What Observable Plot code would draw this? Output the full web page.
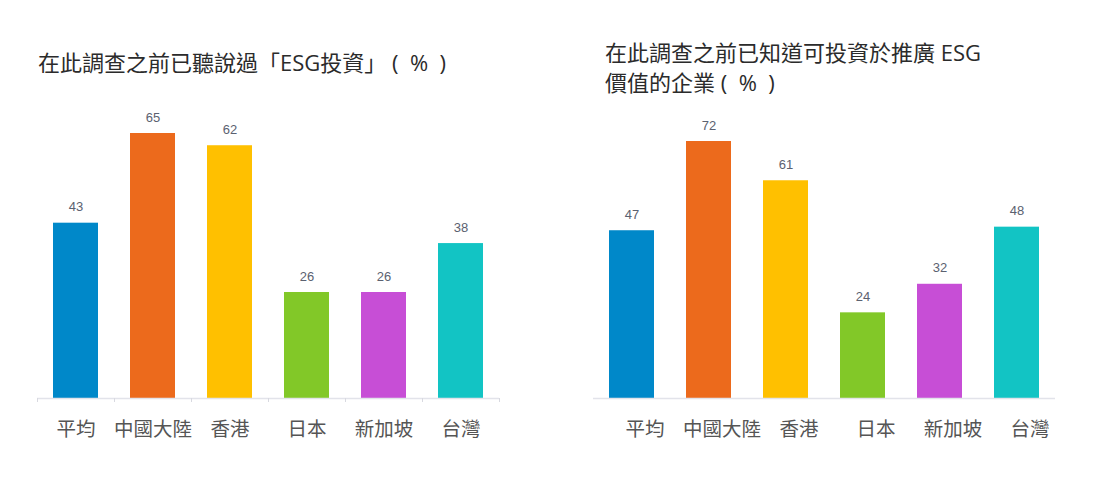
<!DOCTYPE html>
<html><head><meta charset="utf-8">
<script src="https://cdn.jsdelivr.net/npm/d3@7"></script>
<script src="https://cdn.jsdelivr.net/npm/@observablehq/plot@0.6"></script>
<style>
html,body{margin:0;padding:0;background:#fff;}
#root{position:relative;width:1107px;height:484px;overflow:hidden;font-family:"Noto Sans CJK TC","Noto Sans",sans-serif;}
.panel{position:absolute;top:0;}
.title{position:absolute;font-family:"Open Sans","Noto Sans CJK TC",sans-serif;font-size:22px;line-height:30px;color:#2b2b2b;font-weight:400;white-space:pre;}
</style></head>
<body><div id="root"></div>
<script>
const categories = ["平均","中國大陸","香港","日本","新加坡","台灣"];
const colors = ["#0088C9","#EC6A1C","#FFC000","#82C828","#C74ED6","#12C4C4"];
const heardValues = [43, 65, 62, 26, 26, 38];
const knewValues = [47, 72, 61, 24, 32, 48];
const title1 = "在此調查之前已聽說過「ESG投資」 (  %  )";
const title2a = "在此調查之前已知道可投資於推廣 ESG";
const title2b = "價值的企業 (  %  )";

const root = document.getElementById("root");

function makeChart(values, marginTop, withTicks, labelDx) {
  const data = categories.map((c, i) => ({cat: c, v: values[i]}));
  const marks = [
    Plot.barY(data, {x: "cat", y: "v", fill: "cat"}),
    Plot.ruleY([0], {stroke: "#e2e3ea", strokeWidth: 1.5}),
    Plot.text(data, {x: "cat", y: "v", text: d => String(d.v), dy: -16,
      fill: "#5b6170", fontSize: 13, fontFamily: "Liberation Sans, Arial, sans-serif"}),
    Plot.axisX({tickSize: 0, tickPadding: 24, fontSize: 19.5, color: "#555", dx: labelDx,
      fontFamily: "Noto Sans CJK TC", label: null}),
  ];
  if (withTicks) {
    marks.push(Plot.axisX({tickSize: 4, tickFormat: () => "", dx: -38.5, stroke: "#d8d9e0", color: "#d8d9e0", label: null}));
    marks.push(Plot.axisX({ticks: [categories[categories.length - 1]], tickSize: 4, tickFormat: () => "", dx: 38.5, stroke: "#d8d9e0", color: "#d8d9e0", label: null}));
  }
  return Plot.plot({
    width: 530, height: 384,
    marginLeft: 37, marginRight: 31, marginTop: marginTop, marginBottom: 86,
    x: {domain: categories, paddingInner: 0.42, paddingOuter: 0.21, axis: null},
    y: {domain: [0, d3.max(values)], axis: null},
    color: {domain: categories, range: colors},
    style: {background: "transparent", overflow: "visible"},
    marks
  });
}

function panel(left, titleLines, titleTop, titleLeft, chart) {
  const p = document.createElement("div");
  p.className = "panel";
  p.style.left = left + "px";
  p.style.width = "530px";
  p.style.height = "484px";
  const t = document.createElement("div");
  t.className = "title";
  t.style.top = titleTop + "px";
  t.style.left = titleLeft + "px";
  t.textContent = titleLines.join("\n");
  p.appendChild(t);
  chart.style.position = "absolute";
  chart.style.top = "100px";
  chart.style.left = "0px";
  p.appendChild(chart);
  root.appendChild(p);
}

panel(0, [title1], 47, 38, makeChart(heardValues, 33, true, 0));
panel(556, [title2a, title2b], 37, 49, makeChart(knewValues, 41, false, 13));
</script>
</body></html>
